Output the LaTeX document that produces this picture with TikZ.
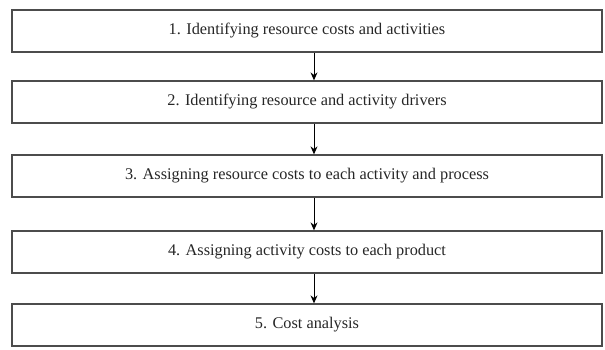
\documentclass[tikz,border=0pt]{standalone}
\usepackage{fontspec}
\setmainfont{Liberation Serif}
\usepackage{tikz}
\usetikzlibrary{arrows.meta}

\begin{document}
\begin{tikzpicture}
[x=1pt,y=1pt,
stepbox/.style={rectangle,draw=black!70,line width=1.3pt,text=black!85,minimum width=590pt,minimum height=42pt,inner sep=0pt,font=\fontsize{16.3}{18}\selectfont},
flow/.style={-{Stealth[length=8pt,width=7pt]},draw=black,line width=0.9pt}]

\useasboundingbox (0,0) rectangle (605,-349);
\node at (307,-31)    [stepbox] (s1) {1. Identifying resource costs and activities};
\node at (307,-102)   [stepbox] (s2) {2. Identifying resource and activity drivers};
\node at (307,-176)   [stepbox] (s3) {3. Assigning resource costs to each activity and process};
\node at (307,-252)   [stepbox] (s4) {4. Assigning activity costs to each product};
\node at (307,-325)   [stepbox] (s5) {5. Cost analysis};
\draw [flow] ([xshift=7pt]s1.south) to ([xshift=7pt]s2.north);
\draw [flow] ([xshift=7pt]s2.south) to ([xshift=7pt]s3.north);
\draw [flow] ([xshift=7pt]s3.south) to ([xshift=7pt]s4.north);
\draw [flow] ([xshift=7pt]s4.south) to ([xshift=7pt]s5.north);
\end{tikzpicture}
\end{document}
